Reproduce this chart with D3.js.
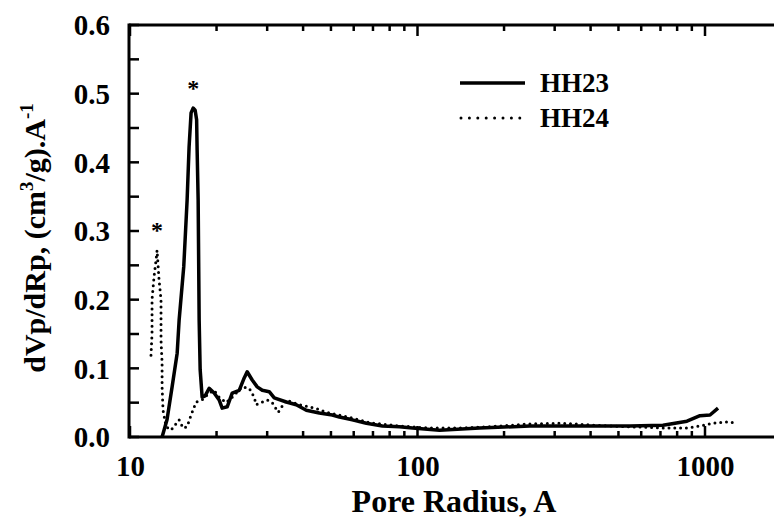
<!DOCTYPE html>
<html><head><meta charset="utf-8">
<script src="https://cdn.jsdelivr.net/npm/d3@7"></script>
<style>
html,body{margin:0;padding:0;background:#fff;}
svg{display:block;}
text{font-family:"Liberation Serif","Times New Roman",serif;font-weight:bold;fill:#000;}
</style></head>
<body>
<svg id="chart" width="774" height="525"></svg>
<script>
// Pore radius (A) and dVp/dRp values
const hh23Radius = [12.93,13.45,14.01,14.59,14.82,15.38,15.80,16.05,16.31,16.58,16.85,17.05,17.12,17.26,17.40,17.54,17.82,18.25,18.85,19.62,20.42,20.92,21.78,22.67,23.98,24.96,25.56,26.61,27.70,28.84,30.50,31.75,34.97,37.87,41.04,45.55,50.56,53.48,59.35,66.42,75.51,86.55,96.07,119.3,164.4,245.6,366.8,547.9,714.1,865.6,960.7,1041,1110];
const hh23Value  = [0.000,0.025,0.073,0.122,0.170,0.248,0.345,0.422,0.472,0.479,0.476,0.462,0.418,0.345,0.170,0.098,0.058,0.060,0.071,0.064,0.054,0.042,0.044,0.064,0.068,0.086,0.095,0.083,0.073,0.068,0.066,0.057,0.051,0.047,0.039,0.035,0.032,0.029,0.025,0.020,0.016,0.015,0.013,0.010,0.013,0.016,0.016,0.016,0.017,0.023,0.031,0.032,0.042];

const hh24Radius = [11.83,11.93,11.93,11.93,12.12,12.32,12.42,12.62,12.82,12.82,12.82,12.93,12.93,13.03,13.35,13.90,14.82,15.30,15.80,16.31,16.98,17.82,18.85,19.62,20.42,21.60,22.67,24.56,25.98,27.04,27.48,28.84,30.02,31.25,32.79,34.97,38.80,42.05,44.83,48.19,53.48,61.31,69.69,74.90,86.55,110.1,140.1,178.2,245.6,320.0,420.5,547.9,714.1,865.6,960.7,1067,1193,1293];
const hh24Value  = [0.119,0.151,0.178,0.200,0.233,0.258,0.272,0.229,0.200,0.178,0.141,0.108,0.073,0.039,0.015,0.010,0.025,0.013,0.015,0.032,0.051,0.054,0.064,0.068,0.058,0.050,0.058,0.073,0.071,0.058,0.047,0.051,0.054,0.050,0.036,0.054,0.047,0.044,0.041,0.036,0.032,0.026,0.020,0.019,0.016,0.013,0.013,0.015,0.019,0.020,0.017,0.015,0.013,0.013,0.016,0.020,0.022,0.020];

const xTickValues = [10, 100, 1000];
const xTickLabels = ["10", "100", "1000"];
const xMinorValues = [20,30,40,50,60,70,80,90,200,300,400,500,600,700,800,900];
const yTickValues = [0, 0.1, 0.2, 0.3, 0.4, 0.5, 0.6];
const yTickLabels = ["0.0", "0.1", "0.2", "0.3", "0.4", "0.5", "0.6"];
const yMinorValues = [0.05, 0.15, 0.25, 0.35, 0.45, 0.55];
const seriesNames = ["HH23", "HH24"];
const peakMarks = [{r: 16.58, v: 0.479}, {r: 12.42, v: 0.272}];

const svg = d3.select("#chart");
const pL = 130, pR = 774, pT = 25, pB = 437;
const x = d3.scaleLog().domain([10, Math.pow(10, 3 + (pR - 705) / 287.5)]).range([pL, pR]);
const y = d3.scaleLinear().domain([0, 0.6]).range([pB, pT]);

// axes frame
const axW = 3;
svg.append("line").attr("x1", pL - 1).attr("x2", pR).attr("y1", pB).attr("y2", pB)
  .attr("stroke", "#000").attr("stroke-width", axW);
svg.append("line").attr("x1", pL - 1).attr("x2", pR).attr("y1", pT).attr("y2", pT)
  .attr("stroke", "#000").attr("stroke-width", axW);
svg.append("line").attr("x1", pL - 1).attr("x2", pL - 1).attr("y1", pT - 1.5).attr("y2", pB + 1.5)
  .attr("stroke", "#000").attr("stroke-width", axW);

// bottom axis with labels
const xAxis = d3.axisBottom(x).tickValues(xTickValues).tickFormat((d, i) => xTickLabels[i]).tickSize(0).tickPadding(18);
const gx = svg.append("g").attr("transform", `translate(0,${pB})`).call(xAxis);
gx.select(".domain").remove();
gx.selectAll("text").style("font-size", "29px").attr("font-family", null);

// y axis labels
const yAxis = d3.axisLeft(y).tickValues(yTickValues).tickFormat((d, i) => yTickLabels[i]).tickSize(0).tickPadding(20);
const gy = svg.append("g").attr("transform", `translate(${pL},0)`).call(yAxis);
gy.select(".domain").remove();
gy.selectAll("text").style("font-size", "29px").attr("font-family", null).attr("dy", "0.34em");

// inward ticks
const tickG = svg.append("g").attr("stroke", "#000");
xTickValues.forEach(v => {
  tickG.append("line").attr("x1", x(v)).attr("x2", x(v)).attr("y1", pB).attr("y2", pB - 11).attr("stroke-width", 2.5);
  tickG.append("line").attr("x1", x(v)).attr("x2", x(v)).attr("y1", pT).attr("y2", pT + 11).attr("stroke-width", 2.5);
});
xMinorValues.forEach(v => {
  tickG.append("line").attr("x1", x(v)).attr("x2", x(v)).attr("y1", pB).attr("y2", pB - 6).attr("stroke-width", 2.5);
  tickG.append("line").attr("x1", x(v)).attr("x2", x(v)).attr("y1", pT).attr("y2", pT + 6).attr("stroke-width", 2.5);
});
yTickValues.concat(yMinorValues).forEach(v => {
  tickG.append("line").attr("x1", pL).attr("x2", pL + 9).attr("y1", y(v)).attr("y2", y(v)).attr("stroke-width", 2.5);
});

// curves
const line = d3.line().x(d => x(d[0])).y(d => y(d[1]));
const d23 = hh23Radius.map((r, i) => [r, hh23Value[i]]);
const d24 = hh24Radius.map((r, i) => [r, hh24Value[i]]);
svg.append("path").datum(d24).attr("d", line).attr("fill", "none").attr("stroke", "#000")
  .attr("stroke-width", 3).attr("stroke-linecap", "round").attr("stroke-dasharray", "0,5.8");
svg.append("path").datum(d23).attr("d", line).attr("fill", "none").attr("stroke", "#000")
  .attr("stroke-width", 3.5).attr("stroke-linejoin", "round");

// peak stars
svg.selectAll("text.star").data(peakMarks).enter().append("text").attr("class", "star")
  .attr("x", d => x(d.r)).attr("y", d => y(d.v) - 12).attr("text-anchor", "middle")
  .style("font-size", "24px").text("*");

// legend
const lg = svg.append("g");
lg.append("line").attr("x1", 460).attr("x2", 525).attr("y1", 83).attr("y2", 83)
  .attr("stroke", "#000").attr("stroke-width", 3.5);
lg.append("line").attr("x1", 461).attr("x2", 520).attr("y1", 118).attr("y2", 118)
  .attr("stroke", "#000").attr("stroke-width", 3).attr("stroke-linecap", "round").attr("stroke-dasharray", "0,8.4");
lg.selectAll("text.leg").data(seriesNames).enter().append("text").attr("class", "leg")
  .attr("x", 540).attr("y", (d, i) => 83 + i * 35).attr("dy", "0.35em")
  .style("font-size", "27px").text(d => d);

// axis titles
svg.append("text").attr("x", 454).attr("y", 512).attr("text-anchor", "middle")
  .style("font-size", "32px").text("Pore Radius, A");
const yt = svg.append("text").attr("transform", "translate(45,238) rotate(-90)").attr("text-anchor", "middle")
  .style("font-size", "30px");
yt.append("tspan").text("dVp/dRp, (cm");
yt.append("tspan").attr("dy", -12).style("font-size", "19px").text("3");
yt.append("tspan").attr("dy", 12).text("/g).A");
yt.append("tspan").attr("dy", -12).style("font-size", "19px").text("-1");
</script>
</body></html>
